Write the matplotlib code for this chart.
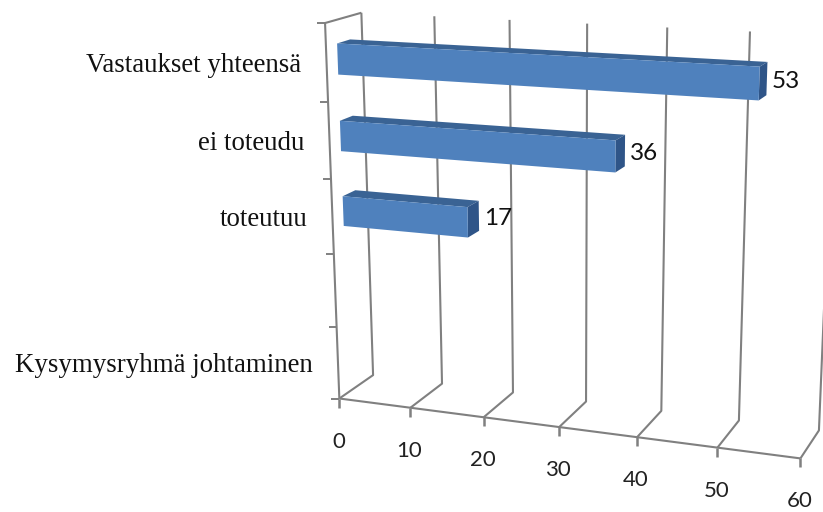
import numpy as np
import matplotlib
matplotlib.use("Agg")
import matplotlib.pyplot as plt

kategoriat = ["Kysymysryhmä johtaminen", "", "toteutuu", "ei toteudu", "Vastaukset yhteensä"]
arvot = [None, None, 17, 36, 53]
x_ticks = [0, 10, 20, 30, 40, 50, 60]

ARVO_MAX = 60
RIVIT = len(kategoriat)

# pilarin syvyys ja korkeus rivin sisällä
SYV_ETU, SYV_TAKA = 0.30, 0.66
PALKKI_ALA, PALKKI_YLA = 0.30, 0.70

VIIVA = "#808080"
ETU = "#4F81BD"
KANSI = "#3A6394"
SIVU = "#2F5588"


def kamera():
    # perspektiivimatriisi kehikon kulmista: (arvo, rivi, syvyys) -> (px, py)
    kulmat = [
        (0, 0, 0, 339, 398), (60, 0, 0, 800, 458),
        (0, 5, 0, 325, 23), (0, 0, 1, 373, 375),
        (60, 0, 1, 819, 430), (0, 5, 1, 362, 13),
        (60, 5, 1, 836, 36), (30, 0, 0, 560, 428),
        (30, 0, 1, 586, 402), (30, 5, 1, 586, 23),
    ]
    rivit = []
    for a, b, c, px, py in kulmat:
        p = [a, b, c, 1]
        rivit.append(p + [0, 0, 0, 0] + [-px * v for v in p])
        rivit.append([0, 0, 0, 0] + p + [-py * v for v in p])
    _, _, vt = np.linalg.svd(np.array(rivit, dtype=float))
    return vt[-1].reshape(3, 4)


M = kamera()


def proj(arvo, rivi, syvyys):
    q = M @ np.array([arvo, rivi, syvyys, 1.0])
    return q[0] / q[2], q[1] / q[2]


def viiva(ax, *pisteet, lw=1.5):
    xs, ys = zip(*[proj(*p) for p in pisteet])
    ax.plot(xs, ys, color=VIIVA, lw=lw, solid_capstyle="butt", zorder=1)


def palkki(ax, arvo, rivi):
    ala, yla = rivi + PALKKI_ALA, rivi + PALKKI_YLA
    etu = [proj(0, ala, SYV_ETU), proj(arvo, ala, SYV_ETU),
           proj(arvo, yla, SYV_ETU), proj(0, yla, SYV_ETU)]
    kansi = [proj(0, yla, SYV_ETU), proj(arvo, yla, SYV_ETU),
             proj(arvo, yla, SYV_TAKA), proj(0, yla, SYV_TAKA)]
    sivu = [proj(arvo, ala, SYV_ETU), proj(arvo, ala, SYV_TAKA),
            proj(arvo, yla, SYV_TAKA), proj(arvo, yla, SYV_ETU)]
    ax.fill(*zip(*kansi), color=KANSI, lw=0, zorder=3)
    ax.fill(*zip(*sivu), color=SIVU, lw=0, zorder=3)
    ax.fill(*zip(*etu), color=ETU, lw=0, zorder=4)
    x, y = proj(arvo, rivi + 0.5, SYV_TAKA)
    ax.text(x + 5, y + 3, str(arvo), family="Lato", fontsize=17.5, color="#111111",
            ha="left", va="center", zorder=5)


fig = plt.figure(figsize=(8.23, 5.12), dpi=100)
ax = fig.add_axes([0, 0, 1, 1])
ax.set_xlim(0, 823)
ax.set_ylim(512, 0)
ax.axis("off")

# ruudukko ja lattia
for t in x_ticks:
    viiva(ax, (t, RIVIT, 1), (t, 0, 1), (t, 0, 0))
    x, y = proj(t, 0, 0)
    ax.plot([x, x], [y, y + 9], color=VIIVA, lw=1.8, solid_capstyle="butt", zorder=1)
    ax.text(x - 1, y + 43, str(t), family="Lato", fontsize=16, color="#222222",
            ha="center", va="center")

# vasen seinä ja akselin merkit
viiva(ax, (0, 0, 0), (ARVO_MAX, 0, 0))
viiva(ax, (0, RIVIT, 1), (0, RIVIT, 0), (0, 0, 0))
for r in range(RIVIT + 1):
    x, y = proj(0, r, 0)
    ax.plot([x - 8, x], [y, y], color=VIIVA, lw=1.4, solid_capstyle="butt", zorder=1)

for r, (nimi, arvo) in enumerate(zip(kategoriat, arvot)):
    x, y = proj(0, r + 0.5, 0)
    ax.text(x - 25, y + 3, nimi, family="Liberation Serif", fontsize=19.4,
            color="#111111", ha="right", va="center")
    if arvo is not None:
        palkki(ax, arvo, r)

fig.savefig("out.png", dpi=100)
